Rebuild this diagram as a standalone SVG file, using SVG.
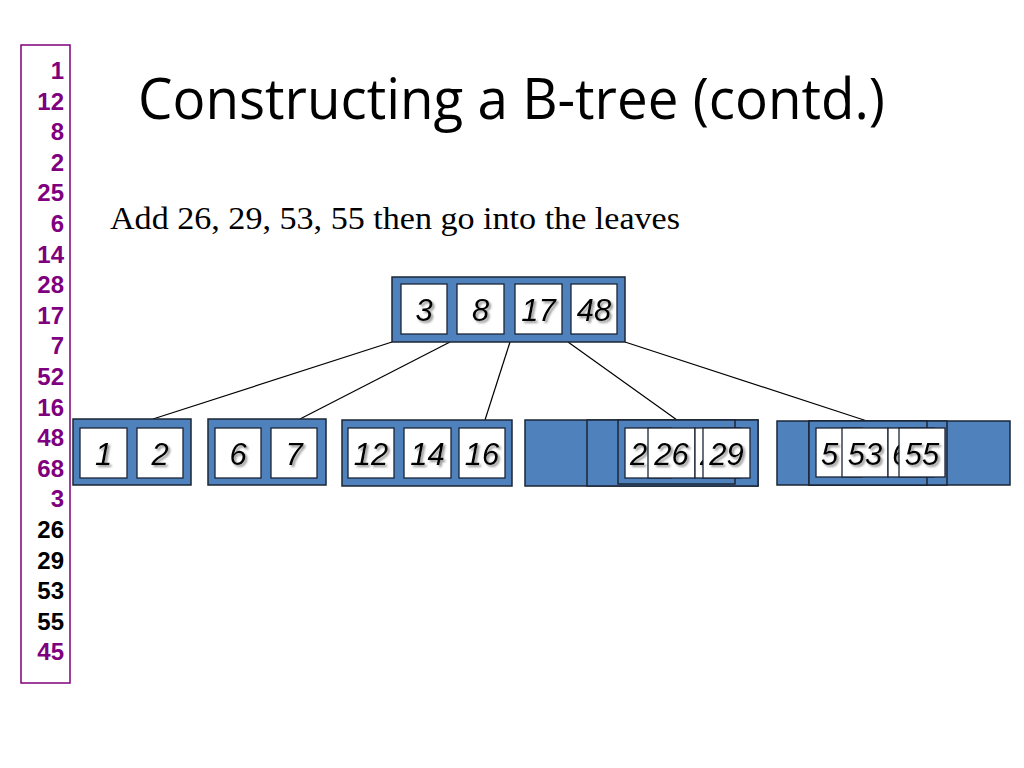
<svg xmlns="http://www.w3.org/2000/svg" width="1024" height="768" viewBox="0 0 1024 768">
<defs>
<filter id="sh" x="-20%" y="-20%" width="150%" height="150%">
<feDropShadow dx="2" dy="2" stdDeviation="1" flood-color="#7a7a7a" flood-opacity="0.8"/>
</filter>
<clipPath id="c28"><rect x="695" y="428" width="8" height="50"/></clipPath>
<clipPath id="c68"><rect x="888" y="428" width="11" height="50"/></clipPath>
</defs>
<style>
.node{fill:#4F81BD;stroke:#1b2636;stroke-width:1.5}
.key{fill:#ffffff;stroke:#1b2636;stroke-width:1.3}
.kt{font-family:"Liberation Sans",Arial,sans-serif;font-style:italic;font-size:31px;text-anchor:middle;fill:#000;filter:url(#sh)}
.ks{text-anchor:start}
.seq{font-family:"Liberation Sans",Arial,sans-serif;font-weight:bold;font-size:24px;text-anchor:end}
.p{fill:#7F007F}
.b{fill:#000}
.edge{stroke:#000;stroke-width:1.2;fill:none}
</style>
<rect width="1024" height="768" fill="#fff"/>
<g id="sequence">
<rect x="21" y="45" width="49" height="638" fill="none" stroke="#7F007F" stroke-width="1.5"/>
<text class="seq p" x="64" y="79">1</text>
<text class="seq p" x="64" y="109.6">12</text>
<text class="seq p" x="64" y="140.2">8</text>
<text class="seq p" x="64" y="170.8">2</text>
<text class="seq p" x="64" y="201.4">25</text>
<text class="seq p" x="64" y="232">6</text>
<text class="seq p" x="64" y="262.6">14</text>
<text class="seq p" x="64" y="293.2">28</text>
<text class="seq p" x="64" y="323.8">17</text>
<text class="seq p" x="64" y="354.4">7</text>
<text class="seq p" x="64" y="385">52</text>
<text class="seq p" x="64" y="415.6">16</text>
<text class="seq p" x="64" y="446.2">48</text>
<text class="seq p" x="64" y="476.8">68</text>
<text class="seq p" x="64" y="507.4">3</text>
<text class="seq b" x="64" y="538">26</text>
<text class="seq b" x="64" y="568.6">29</text>
<text class="seq b" x="64" y="599.2">53</text>
<text class="seq b" x="64" y="629.8">55</text>
<text class="seq p" x="64" y="660.4">45</text>
</g>
<g id="title">
<text x="138" y="119" font-family="'Open Sans','Noto Sans',sans-serif" font-size="57" textLength="747" lengthAdjust="spacingAndGlyphs" fill="#000">Constructing a B-tree (contd.)</text>
</g>
<g id="subtitle">
<text x="110" y="229" font-family="'Liberation Serif','Times New Roman',serif" font-size="31" textLength="570" lengthAdjust="spacingAndGlyphs" fill="#000">Add 26, 29, 53, 55 then go into the leaves</text>
</g>
<g id="connectors">
<line class="edge" x1="392" y1="342" x2="153" y2="419"/>
<line class="edge" x1="450" y1="342" x2="300" y2="419"/>
<line class="edge" x1="510" y1="342" x2="485" y2="420"/>
<line class="edge" x1="568" y1="342" x2="677" y2="420"/>
<line class="edge" x1="625" y1="342" x2="867" y2="421"/>
</g>
<g id="root">
<rect class="node" x="392" y="277" width="233" height="65"/>
<rect class="key" x="401" y="284" width="46" height="50"/><text class="kt" x="424" y="320.5">3</text>
<rect class="key" x="457" y="284" width="47" height="50"/><text class="kt" x="480.5" y="320.5">8</text>
<rect class="key" x="515" y="284" width="47" height="50"/><text class="kt" x="538.5" y="320.5">17</text>
<rect class="key" x="571" y="284" width="46" height="50"/><text class="kt" x="594" y="320.5">48</text>
</g>
<g id="leaf1">
<rect class="node" x="73" y="419" width="118" height="66"/>
<rect class="key" x="80" y="428" width="47" height="50"/><text class="kt" x="103.5" y="465">1</text>
<rect class="key" x="137" y="428" width="46" height="50"/><text class="kt" x="160" y="465">2</text>
</g>
<g id="leaf2">
<rect class="node" x="208" y="419" width="118" height="66"/>
<rect class="key" x="215" y="428" width="46" height="50"/><text class="kt" x="238" y="465">6</text>
<rect class="key" x="271" y="428" width="46" height="50"/><text class="kt" x="294" y="465">7</text>
</g>
<g id="leaf3">
<rect class="node" x="342" y="420" width="170" height="66"/>
<rect class="key" x="348" y="428" width="46" height="50"/><text class="kt" x="371" y="465">12</text>
<rect class="key" x="404" y="428" width="47" height="50"/><text class="kt" x="427.5" y="465">14</text>
<rect class="key" x="459" y="428" width="46" height="50"/><text class="kt" x="482" y="465">16</text>
</g>
<g id="leaf4">
<rect class="node" x="525" y="420" width="233" height="66"/>
<rect class="node" x="587" y="420" width="171" height="66"/>
<rect class="node" x="618" y="420" width="117" height="64"/>
<rect class="key" x="625" y="428" width="46" height="50"/><text class="kt ks" x="630" y="465">2</text>
<rect class="key" x="648" y="428" width="47" height="50"/><text class="kt" x="671.5" y="465">26</text>
<rect class="key" x="695" y="428" width="46" height="50"/><g clip-path="url(#c28)"><text class="kt ks" x="700" y="465">2</text></g>
<rect class="key" x="703" y="428" width="47" height="50"/><text class="kt" x="726.5" y="465">29</text>
</g>
<g id="leaf5">
<rect class="node" x="777" y="421" width="233" height="64"/>
<rect class="node" x="809" y="421" width="138" height="64"/>
<rect class="node" x="809" y="421" width="118" height="64"/>
<rect class="key" x="816" y="428" width="46" height="49"/><text class="kt ks" x="821" y="465">5</text>
<rect class="key" x="842" y="428" width="46" height="49"/><text class="kt" x="865" y="465">53</text>
<rect class="key" x="888" y="428" width="46" height="49"/><g clip-path="url(#c68)"><text class="kt ks" x="892" y="465">6</text></g>
<rect class="key" x="899" y="428" width="46" height="49"/><text class="kt" x="922" y="465">55</text>
</g>
</svg>
